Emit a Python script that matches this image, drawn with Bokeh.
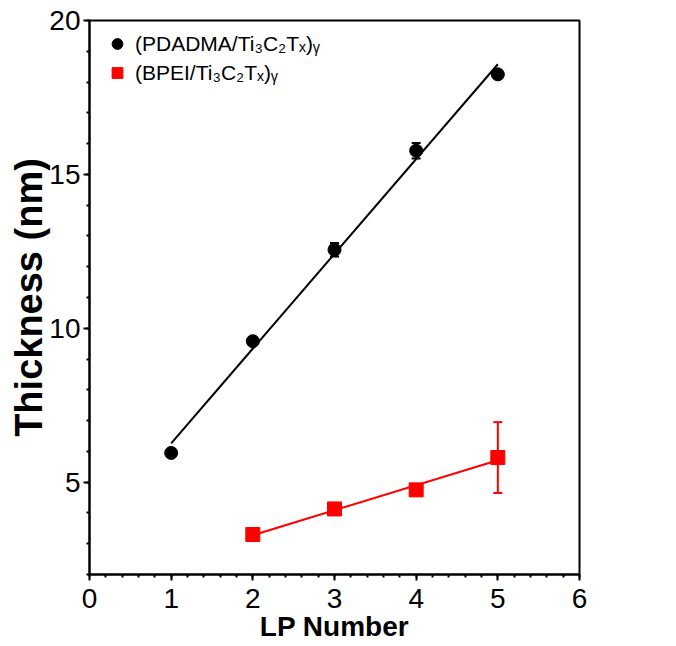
import numpy as np
from bokeh.plotting import figure
from bokeh.models import (ColumnDataSource, Range1d, FixedTicker, Whisker, TeeHead,
                          Legend, LegendItem)
from bokeh.embed import file_html
from bokeh.resources import INLINE

# ---- data ----
lp_black = [1, 2, 3, 4, 5]
thick_black = [5.95, 9.58, 12.55, 15.77, 18.25]
err_black = [0.08, 0.08, 0.22, 0.25, 0.10]

lp_red = [2, 3, 4, 5]
thick_red = [3.30, 4.13, 4.75, 5.80]
err_red = [0.08, 0.12, 0.08, 1.15]

x_ticks = [0, 1, 2, 3, 4, 5, 6]
y_ticks = [5, 10, 15, 20]
label_black = "(PDADMA/Ti\u2083C\u2082T\u2093)\u1d67"
label_red = "(BPEI/Ti\u2083C\u2082T\u2093)\u1d67"

FONT = "Liberation Sans"

p = figure(width=599, height=646, output_backend="svg", toolbar_location=None,
           x_range=Range1d(0, 6), y_range=Range1d(2, 20),
           min_border_left=89, min_border_right=20, min_border_top=20, min_border_bottom=72)
p.xgrid.visible = False
p.ygrid.visible = False
p.outline_line_color = "black"
p.outline_line_width = 2
p.background_fill_color = "white"
p.border_fill_color = "white"

# axes
p.xaxis.ticker = FixedTicker(ticks=x_ticks, minor_ticks=list(np.round(np.arange(0, 6.01, 0.2), 2)))
p.yaxis.ticker = FixedTicker(ticks=y_ticks, minor_ticks=list(range(2, 21)))
for ax in (p.xaxis, p.yaxis):
    ax.axis_line_width = 2
    ax.axis_line_color = "black"
    ax.major_tick_line_width = 2
    ax.minor_tick_line_width = 2
    ax.major_tick_in = 0
    ax.minor_tick_in = 0
    ax.major_tick_out = 6
    ax.minor_tick_out = 3
    ax.major_label_text_font = FONT
    ax.major_label_text_font_size = "28px"
    ax.major_label_text_color = "black"
    ax.axis_label_text_font = FONT
    ax.axis_label_text_font_style = "bold"
    ax.axis_label_text_color = "black"
p.xaxis.axis_label = "LP Number"
p.yaxis.axis_label = "Thickness (nm)"
p.xaxis.axis_label_text_font_size = "28px"
p.yaxis.axis_label_text_font_size = "38px"
p.xaxis.major_label_standoff = 8
p.xaxis.axis_label_standoff = 0
p.yaxis.major_label_standoff = 3
p.yaxis.axis_label_standoff = -4

# fit lines
kb = np.polyfit(lp_black, thick_black, 1)
kr = np.polyfit(lp_red, thick_red, 1)
xb = np.array([min(lp_black), max(lp_black)])
xr = np.array([min(lp_red), max(lp_red)])
p.line(xb, np.polyval(kb, xb), line_color="black", line_width=2)
p.line(xr, np.polyval(kr, xr), line_color="#ff0000", line_width=2)

# error bars
src_b = ColumnDataSource(dict(x=lp_black, y=thick_black,
                              upper=np.array(thick_black) + np.array(err_black),
                              lower=np.array(thick_black) - np.array(err_black)))
src_r = ColumnDataSource(dict(x=lp_red, y=thick_red,
                              upper=np.array(thick_red) + np.array(err_red),
                              lower=np.array(thick_red) - np.array(err_red)))
for src, col in ((src_b, "black"), (src_r, "#ff0000")):
    w = Whisker(base="x", upper="upper", lower="lower", source=src,
                line_color=col, line_width=2, level="underlay",
                upper_head=TeeHead(size=9, line_color=col, line_width=2),
                lower_head=TeeHead(size=9, line_color=col, line_width=2))
    p.add_layout(w)

rb = p.scatter("x", "y", source=src_b, marker="circle", size=13,
               fill_color="black", line_color="black")
rr = p.scatter("x", "y", source=src_r, marker="square", size=14,
               fill_color="#ff0000", line_color="#ff0000")

legend = Legend(items=[LegendItem(label=label_black, renderers=[rb]),
                       LegendItem(label=label_red, renderers=[rr])],
                location="top_left", margin=10, padding=6,
                glyph_width=36, glyph_height=27, label_height=20, spacing=2,
                label_standoff=0, border_line_color=None, background_fill_alpha=0,
                label_text_font=FONT, label_text_font_size="21px", label_text_color="black")
p.add_layout(legend)

open("out.html", "w").write(file_html(p, INLINE))
